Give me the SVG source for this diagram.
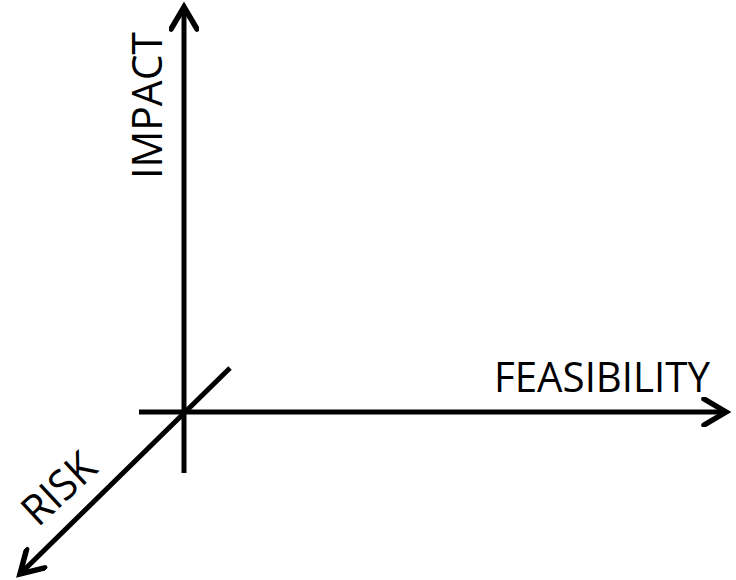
<svg xmlns="http://www.w3.org/2000/svg" width="736" height="580" viewBox="0 0 736 580">
<style>
.ax{stroke:#000;stroke-width:5;fill:none}
.lbl{font-family:"Open Sans","Liberation Sans",sans-serif;font-size:42px;fill:#000}
</style>
<defs>
<marker id="arr" viewBox="-30 -15 36 30" refX="0" refY="0" markerWidth="36" markerHeight="30" markerUnits="userSpaceOnUse" orient="auto">
<path d="M-22,-13 L0,0 L-22,13" fill="none" stroke="#000" stroke-width="5.5" stroke-linecap="round" stroke-linejoin="miter"/>
</marker>
</defs>
<rect width="736" height="580" fill="#fff"/>
<g id="connectors">
<line class="ax" x1="184" y1="473" x2="184" y2="7" marker-end="url(#arr)"/>
<line class="ax" x1="139" y1="412" x2="726" y2="412" marker-end="url(#arr)"/>
<line class="ax" x1="230" y1="368" x2="20" y2="574" marker-end="url(#arr)"/>
</g>
<g id="impact"><text class="lbl" transform="translate(162,179) rotate(-90)" textLength="147" lengthAdjust="spacingAndGlyphs">IMPACT</text></g>
<g id="feasibility"><text class="lbl" x="494" y="392" textLength="216" lengthAdjust="spacingAndGlyphs">FEASIBILITY</text></g>
<g id="risk"><text class="lbl" transform="translate(38,528) rotate(-43)" textLength="84" lengthAdjust="spacingAndGlyphs">RISK</text></g>
</svg>
